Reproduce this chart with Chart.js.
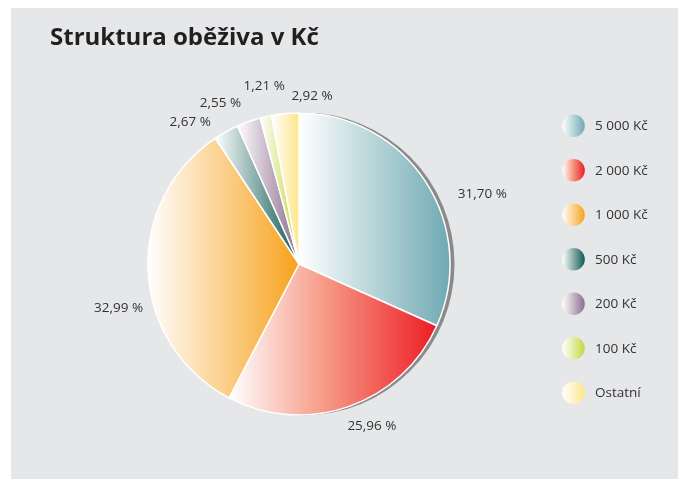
<!DOCTYPE html>
<html>
<head>
<meta charset="utf-8">
<script src="https://cdn.jsdelivr.net/npm/chart.js@4"></script>
<style>
  html, body { margin: 0; padding: 0; background: #ffffff; }
  #panel { position: absolute; left: 11px; top: 8px; right: 0; bottom: 0; background: #e6e7e9; }
  #wrap { position: absolute; left: 0; top: 0; width: 678px; height: 479px; }
</style>
</head>
<body>
<div id="panel"></div>
<div id="wrap"><canvas id="strukturaChart"></canvas></div>
<script>
const categories = ['5 000 Kč', '2 000 Kč', '1 000 Kč', '500 Kč', '200 Kč', '100 Kč', 'Ostatní'];
const shares = [31.70, 25.96, 32.99, 2.67, 2.55, 1.21, 2.92];
const sliceColors = ['#6ea9b2', '#ed1c24', '#f7a21b', '#0f5a52', '#8c6c8c', '#c4d842', '#fde68a'];
// mezibarva prechodu (null = jen bila -> barva)
const midColors = [null, '#f69c88', null, null, null, null, null];

// posun popisku: uhel (stupne) a vzdalenost jako nasobek polomeru
const labelNudge = [12, -5, -10.7, -8.6, -6.6, 1.6, 9.7];
const labelDist = [1.30, 1.18, 1.23, 1.185, 1.185, 1.20, 1.115];

const total = shares.reduce((a, b) => a + b, 0);
const fmt = v => v.toFixed(2).replace('.', ',') + ' %';

function addStops(g, i) {
  g.addColorStop(0, '#ffffff');
  if (midColors[i]) g.addColorStop(0.45, midColors[i]);
  g.addColorStop(1, sliceColors[i]);
  return g;
}

function sliceGradient(ctx) {
  const chart = ctx.chart;
  const area = chart.chartArea;
  const i = ctx.dataIndex;
  if (!area) return sliceColors[i];
  const cx = (area.left + area.right) / 2;
  const cy = (area.top + area.bottom) / 2;
  const r = Math.min(area.width, area.height) / 2;
  let before = 0;
  for (let k = 0; k < i; k++) before += shares[k];
  const a0 = -Math.PI / 2 + 2 * Math.PI * before / total;
  const a1 = a0 + 2 * Math.PI * shares[i] / total;
  const xs = [cx, cx + r * Math.cos(a0), cx + r * Math.cos(a1)];
  if (a0 <= Math.PI && a1 >= Math.PI) xs.push(cx - r);
  if (a0 <= 0 && a1 >= 0) xs.push(cx + r);
  return addStops(chart.ctx.createLinearGradient(Math.min(...xs), 0, Math.max(...xs), 0), i);
}

const shadowPlugin = {
  id: 'pieShadow',
  beforeDatasetsDraw(chart) {
    const arc = chart.getDatasetMeta(0).data[0];
    if (!arc) return;
    const c = chart.ctx;
    c.save();
    c.fillStyle = '#8a8a8b';
    c.beginPath();
    c.arc(arc.x + 4, arc.y, arc.outerRadius + 0.5, 0, Math.PI * 2);
    c.fill();
    c.restore();
  }
};

const labelPlugin = {
  id: 'pctLabels',
  afterDatasetsDraw(chart) {
    const c = chart.ctx;
    c.save();
    c.font = '13.5px "Open Sans"';
    c.fillStyle = '#333333';
    c.textAlign = 'center';
    c.textBaseline = 'middle';
    chart.getDatasetMeta(0).data.forEach((arc, i) => {
      const mid = (arc.startAngle + arc.endAngle) / 2 + labelNudge[i] * Math.PI / 180;
      const d = arc.outerRadius * labelDist[i];
      c.fillText(fmt(shares[i]), arc.x + d * Math.cos(mid), arc.y + d * Math.sin(mid));
    });
    c.restore();
  }
};

const legendPlugin = {
  id: 'kruhLegenda',
  afterDraw(chart) {
    const c = chart.ctx;
    c.save();
    c.font = '13.5px "Open Sans"';
    c.textBaseline = 'middle';
    categories.forEach((name, i) => {
      const x = 573.5, y = 125.7 + i * 44.5, rr = 11.3;
      c.fillStyle = addStops(c.createLinearGradient(x - rr, 0, x + rr, 0), i);
      c.beginPath();
      c.arc(x, y, rr, 0, Math.PI * 2);
      c.fill();
      c.fillStyle = '#333333';
      c.fillText(name, 595, y + 0.5);
    });
    c.restore();
  }
};

new Chart(document.getElementById('strukturaChart').getContext('2d'), {
  type: 'pie',
  data: {
    labels: categories,
    datasets: [{
      data: shares,
      backgroundColor: sliceGradient,
      borderColor: '#ffffff',
      borderWidth: 1.5
    }]
  },
  options: {
    responsive: true,
    maintainAspectRatio: false,
    animation: false,
    events: [],
    layout: { padding: { left: 50, right: 130, top: 0, bottom: 63.25 } },
    plugins: {
      legend: { display: false },
      tooltip: { enabled: false },
      title: {
        display: true,
        text: 'Struktura oběživa v Kč',
        align: 'start',
        color: '#231f20',
        font: { family: '"Open Sans"', size: 24, weight: 'bold', lineHeight: 1.2 },
        padding: { top: 23.4, bottom: 60 }
      }
    }
  },
  plugins: [shadowPlugin, labelPlugin, legendPlugin]
});
</script>
</body>
</html>
